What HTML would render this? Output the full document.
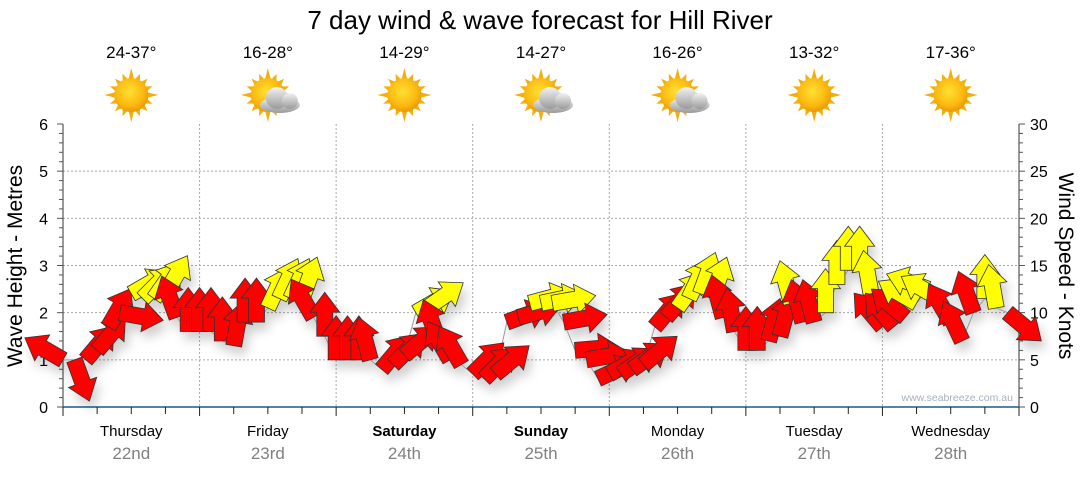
<!DOCTYPE html>
<html><head><meta charset="utf-8"><style>
body{margin:0;background:#fff;width:1080px;height:475px;overflow:hidden;font-family:"Liberation Sans",sans-serif}
svg text{font-family:"Liberation Sans",sans-serif}
</style></head><body>
<svg id="chart" width="1080" height="475" xmlns="http://www.w3.org/2000/svg">
<defs>
<radialGradient id="sunG" cx="45%" cy="40%" r="60%"><stop offset="0" stop-color="#ffe033"/><stop offset="0.7" stop-color="#fbb80f"/><stop offset="1" stop-color="#e89a08"/></radialGradient>
<linearGradient id="cloudG" x1="0" y1="0" x2="0" y2="1"><stop offset="0" stop-color="#f2f2f2"/><stop offset="1" stop-color="#9a9a9a"/></linearGradient>
<filter id="shadow" x="-50%" y="-50%" width="200%" height="200%"><feDropShadow dx="4" dy="8" stdDeviation="5" flood-color="#000" flood-opacity="0.18"/></filter>
</defs>
<text x="540" y="29" text-anchor="middle" font-size="26" fill="#000">7 day wind &amp; wave forecast for Hill River</text>
<g id="weather"></g>
<g id="grid"></g>
<g id="axes"></g>
<g id="marks" filter="url(#shadow)"></g>
<text transform="translate(22,266) rotate(-90)" text-anchor="middle" font-size="21" fill="#000">Wave Height - Metres</text>
<text transform="translate(1059,266) rotate(90)" text-anchor="middle" font-size="21" fill="#000">Wind Speed - Knots</text>
<text x="1013" y="401" text-anchor="end" font-size="10.5" fill="#a8b0bc">www.seabreeze.com.au</text>
</svg>
<script>
const days=["Thursday","Friday","Saturday","Sunday","Monday","Tuesday","Wednesday"];
const dates=["22nd","23rd","24th","25th","26th","27th","28th"];
const boldDays=[false,false,true,true,false,false,false];
const temps=["24-37°","16-28°","14-29°","14-27°","16-26°","13-32°","17-36°"];
const cloudy=[false,true,false,true,true,false,false];
const waveTicks=[0,1,2,3,4,5,6];
const windTicks=[0,5,10,15,20,25,30];
// hours from start (2-hourly)
const hours=[0,2,4,6,8,10,12,14,16,18,20,22,24,26,28,30,32,34,36,38,40,42,44,46,48,50,52,54,56,58,60,62,64,66,68,70,72,74,76,78,80,82,84,86,88,90,92,94,96,98,100,102,104,106,108,110,112,114,116,118,120,122,124,126,128,130,132,134,136,138,140,142,144,146,148,150,152,154,156,158,160,162,164,166];
const waveHeight=[1.0,1.0,1.0,1.2,1.7,2.0,2.4,2.3,2.3,2.4,1.9,1.6, 1.6,1.6,1.4,1.3,1.8,1.8,2.1,2.3,2.3,2.3,1.9,1.5, 1.0,1.0,1.0,1.0,0.8,0.9,1.1,2.0,2.1,1.4,1.0,0.9, 0.7,0.6,0.7,1.8,1.9,2.2,2.2,2.2,1.8,1.2,1.0,0.6, 0.7,0.7,0.8,0.9,1.7,1.9,2.1,2.3,2.4,2.3,1.9,1.6, 1.2,1.2,1.4,1.5,2.2,1.8,1.8,2.0,2.6,2.9,2.9,2.4, 1.7,1.7,1.9,2.2,2.5,2.3,1.8,1.4,2.0,2.3,2.1,2.0];
const windDir=[300,160,40,40,30,100,60,45,35,30,340,0, 0,0,0,10,0,0,25,25,25,20,330,0, 0,0,0,345,40,45,50,60,55,340,330,330, 45,45,50,70,75,75,78,80,80,85,80,65, 60,55,55,50,40,40,35,25,20,20,345,350, 0,0,15,15,345,345,345,0,0,0,0,350, 320,320,310,300,290,300,330,335,340,0,350,130];
const strong=[0,0,0,0,0,0,1,1,1,1,0,0, 0,0,0,0,0,0,1,1,1,1,0,0, 0,0,0,0,0,0,0,1,1,0,0,0, 0,0,0,0,0,1,1,1,0,0,0,0, 0,0,0,0,0,0,1,1,1,1,0,0, 0,0,0,0,1,0,0,1,1,1,1,1, 0,0,0,1,1,1,0,0,0,1,1,0];

const NS="http://www.w3.org/2000/svg";
const X0=63,X1=1019,Y0=407,Y1=124;
const pxHour=(X1-X0)/168;
const xOf=h=>X0+h*pxHour;
const yOf=m=>Y0-(m/6)*(Y0-Y1);
const yWind=k=>Y0-(k/30)*(Y0-Y1);
function el(tag,attrs,parent){const e=document.createElementNS(NS,tag);for(const k in attrs)e.setAttribute(k,attrs[k]);parent.appendChild(e);return e;}

// weather row
const wg=document.getElementById('weather');
days.forEach((d,i)=>{
  const cx=xOf(i*24+12);
  const t=el('text',{x:cx,y:58,'text-anchor':'middle','font-size':17,fill:'#000'},wg);
  t.textContent=temps[i];
  
  
  const g=el('g',{transform:`translate(${cx},95)`},wg);
  
  
  for(let r=0;r<16;r++){
    const a=r*22.5, L=(r%4==0)?12:8;
    el('polygon',{points:`-3,0 3,0 0,-${L}`,fill:'#f0b010',transform:`rotate(${a}) translate(0,-15)`},g);
  }
  el('circle',{cx:0,cy:0,r:17,fill:'url(#sunG)'},g);
  if(cloudy[i]){
    const c=el('g',{transform:'translate(10,5)'},g);
    el('ellipse',{cx:2,cy:5,rx:20,ry:8,fill:'url(#cloudG)'},c);
    el('circle',{cx:-1,cy:-2,r:11,fill:'url(#cloudG)'},c);
    el('circle',{cx:12,cy:1,r:8,fill:'url(#cloudG)'},c);
  }
});

// grid
const gg=document.getElementById('grid');
waveTicks.forEach(m=>{ if(m>0&&m<6) el('line',{x1:X0,x2:X1,y1:yOf(m),y2:yOf(m),stroke:'#aaa','stroke-dasharray':'2,2','stroke-width':1},gg);});
for(let d=1;d<7;d++){const x=xOf(d*24);el('line',{x1:x,x2:x,y1:Y1,y2:Y0,stroke:'#aaa','stroke-dasharray':'2,2','stroke-width':1},gg);}

// axes
const ag=document.getElementById('axes');
el('line',{x1:X0,x2:X0,y1:Y1,y2:Y0,stroke:'#333','stroke-width':1},ag);
el('line',{x1:X1,x2:X1,y1:Y1,y2:Y0,stroke:'#333','stroke-width':1},ag);
for(let m=0;m<=30;m++){const y=yOf(m*0.2);el('line',{x1:X0-(m%5==0?6:4),x2:X0,y1:y,y2:y,stroke:'#555'},ag);}
for(let k=0;k<=30;k++){const y=yWind(k);el('line',{x1:X1,x2:X1+(k%5==0?6:4),y1:y,y2:y,stroke:'#555'},ag);}
waveTicks.forEach(m=>{const t=el('text',{x:48,y:yOf(m)+6,'text-anchor':'end','font-size':16,fill:'#000'},ag);t.textContent=m;
  });
windTicks.forEach(k=>{const t=el('text',{x:1030,y:yWind(k)+6,'font-size':16,fill:'#000'},ag);t.textContent=k;
  });
el('line',{x1:X0,x2:X1,y1:Y0,y2:Y0,stroke:'#1e5a80','stroke-width':1.5},ag);
for(let h=0;h<=168;h+=6){const x=xOf(h);el('line',{x1:x,x2:x,y1:Y0,y2:Y0+(h%24==0?9:7),stroke:'#222'},ag);}
days.forEach((d,i)=>{
  const cx=xOf(i*24+12);
  const t=el('text',{x:cx,y:436,'text-anchor':'middle','font-size':15,fill:'#000','font-weight':boldDays[i]?'bold':'normal'},ag);
  t.textContent=d;
  const t2=el('text',{x:cx,y:459,'text-anchor':'middle','font-size':17,fill:'#808080'},ag);
  t2.textContent=dates[i];
});

// connecting line + arrows
const mg=document.getElementById('marks');
let pts=hours.map((h,i)=>`${xOf(h)},${yOf(waveHeight[i])}`).join(' ');
const pl=el('polyline',{points:pts,fill:'none',stroke:'#999','stroke-width':1},mg);


const arrowPath="M-8,0 L-8,-24 L-15,-24 L0,-44 L15,-24 L8,-24 L8,0 Z";
hours.forEach((h,i)=>{
  const p=el('path',{d:arrowPath,fill:strong[i]?'#ffff00':'#ff0000',stroke:'#333','stroke-width':0.8,
    transform:`translate(${xOf(h)},${yOf(waveHeight[i])}) rotate(${windDir[i]})`},mg);
  
  
});
</script>
</body></html>
